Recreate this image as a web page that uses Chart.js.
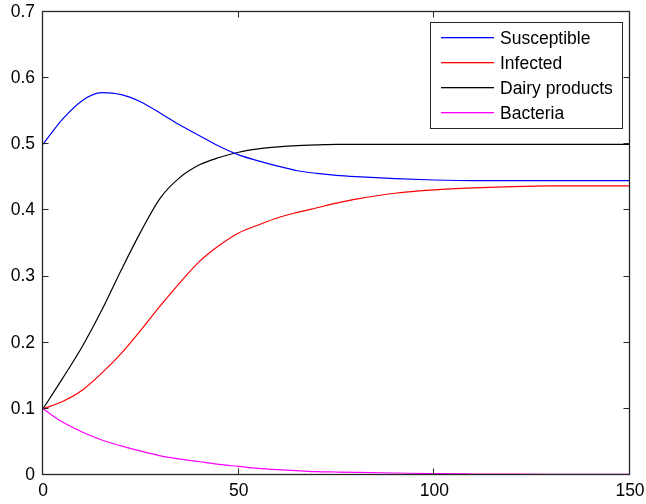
<!DOCTYPE html>
<html>
<head>
<meta charset="utf-8">
<script src="https://cdn.jsdelivr.net/npm/chart.js@4/dist/chart.umd.min.js"></script>
<style>
  html, body { margin: 0; padding: 0; background: #fff; }
  #wrap { width: 646px; height: 504px; }
</style>
</head>
<body>
<div id="wrap"><canvas id="plot" width="646" height="504"></canvas></div>
<script>
// ---------- Data ----------
const time = [0, 5, 10, 15, 20, 25, 30, 35, 40, 45, 50, 55, 60, 65, 70, 75, 80, 90, 100, 110, 120, 130, 140, 150];
const susceptible = [0.500, 0.538, 0.566, 0.578, 0.575, 0.564, 0.547, 0.529, 0.513, 0.497, 0.484, 0.475, 0.467, 0.460, 0.456, 0.453, 0.451, 0.448, 0.446, 0.445, 0.445, 0.445, 0.445, 0.445];
const infected = [0.100, 0.111, 0.128, 0.154, 0.184, 0.219, 0.256, 0.291, 0.323, 0.347, 0.366, 0.378, 0.389, 0.397, 0.404, 0.411, 0.417, 0.426, 0.431, 0.434, 0.436, 0.437, 0.437, 0.437];
const dairy = [0.100, 0.146, 0.194, 0.249, 0.310, 0.368, 0.419, 0.450, 0.469, 0.480, 0.488, 0.493, 0.496, 0.498, 0.499, 0.500, 0.500, 0.500, 0.500, 0.500, 0.500, 0.500, 0.500, 0.500];
const bacteria = [0.100, 0.080, 0.065, 0.053, 0.044, 0.036, 0.029, 0.024, 0.020, 0.016, 0.013, 0.010, 0.008, 0.0065, 0.005, 0.0045, 0.004, 0.003, 0.002, 0.0015, 0.0012, 0.001, 0.001, 0.001];
const seriesNames = ["Susceptible", "Infected", "Dairy products", "Bacteria"];
const seriesColors = ["#0000ff", "#ff0000", "#000000", "#ff00ff"];
const xTicks = [0, 50, 100, 150];
const yTicks = [0, 0.1, 0.2, 0.3, 0.4, 0.5, 0.6, 0.7];

const FONT = "'Liberation Sans', Arial, sans-serif";

function toPoints(values) {
    return values.map((v, i) => ({ x: time[i], y: v }));
}

// ---------- Box, inward ticks and legend (MATLAB look) ----------
const matlabAxes = {
    id: "matlabAxes",
    afterDatasetsDraw(chart) {
        const ctx = chart.ctx;
        const a = chart.chartArea;
        const xs = chart.scales.x, ys = chart.scales.y;
        const L = Math.round(a.left) - 0.5, R = Math.round(a.right) - 0.5;
        const T = Math.round(a.top) - 0.5, B = Math.round(a.bottom) - 0.5;
        ctx.save();
        ctx.strokeStyle = "#262626";
        ctx.lineWidth = 1;
        ctx.beginPath();
        // inward ticks on all four sides
        xTicks.forEach(v => {
            const px = Math.round(xs.getPixelForValue(v)) - 0.5;
            ctx.moveTo(px, B); ctx.lineTo(px, B - 6);
            ctx.moveTo(px, T); ctx.lineTo(px, T + 6);
        });
        yTicks.forEach(v => {
            const py = Math.round(ys.getPixelForValue(v)) - 0.5;
            ctx.moveTo(L, py); ctx.lineTo(L + 6, py);
            ctx.moveTo(R, py); ctx.lineTo(R - 6, py);
        });
        ctx.stroke();
        ctx.lineWidth = 1.3;
        ctx.strokeRect(L, T, R - L, B - T);
        ctx.restore();

        // legend box
        ctx.save();
        const lx = 430.5, ly = 22.5, lw = 192, lh = 106;
        ctx.fillStyle = "#ffffff";
        ctx.fillRect(lx, ly, lw, lh);
        ctx.lineWidth = 1;
        ctx.strokeStyle = "#262626";
        ctx.strokeRect(lx, ly, lw, lh);
        ctx.font = "17.5px " + FONT;
        ctx.textBaseline = "middle";
        seriesNames.forEach((name, i) => {
            const y = Math.round(36.5 + i * 25.3);
            ctx.fillStyle = seriesColors[i];
            ctx.fillRect(441, y, 53, 1.3);
            ctx.fillStyle = "#000000";
            ctx.fillText(name, 500, y + 2);
        });
        ctx.restore();
    }
};

// ---------- Chart ----------
const ctxPlot = document.getElementById("plot").getContext("2d");
new Chart(ctxPlot, {
    type: "line",
    data: {
        datasets: [susceptible, infected, dairy, bacteria].map((vals, i) => ({
            label: seriesNames[i],
            data: toPoints(vals),
            borderColor: seriesColors[i],
            borderWidth: 1.2,
            pointRadius: 0,
            fill: false,
            cubicInterpolationMode: "monotone"
        }))
    },
    options: {
        responsive: false,
        animation: false,
        layout: { padding: { top: 12, right: 10, left: 0, bottom: 0 } },
        plugins: { legend: { display: false }, tooltip: { enabled: false } },
        scales: {
            x: {
                type: "linear",
                min: 0, max: 150,
                afterBuildTicks: s => { s.ticks = xTicks.map(v => ({ value: v })); },
                afterFit: s => { s.height = 29; s.paddingRight = 16; s.paddingLeft = 0; },
                grid: { display: false, drawTicks: false },
                border: { display: false },
                ticks: { color: "#000", padding: 6, maxRotation: 0, font: { family: FONT, size: 17.5 } }
            },
            y: {
                type: "linear",
                min: 0, max: 0.7,
                afterBuildTicks: s => { s.ticks = yTicks.map(v => ({ value: v })); },
                afterFit: s => { s.width = 43; s.paddingTop = 12; s.paddingBottom = 0; },
                grid: { display: false, drawTicks: false },
                border: { display: false },
                ticks: {
                    color: "#000", padding: 8, font: { family: FONT, size: 17.5 },
                    callback: v => (v === 0 ? "0" : v.toFixed(1))
                }
            }
        }
    },
    plugins: [matlabAxes]
});
</script>
</body>
</html>
